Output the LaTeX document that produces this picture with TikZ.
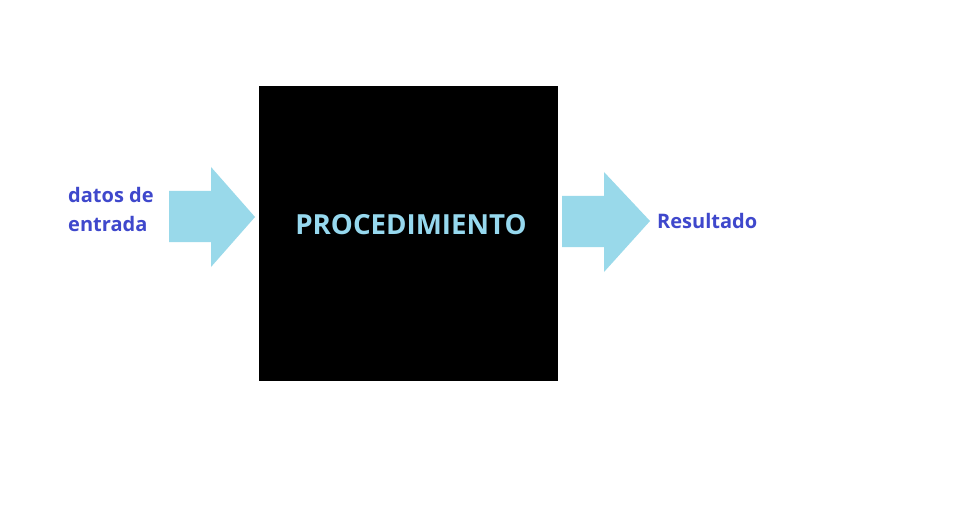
\documentclass[tikz,border=0pt]{standalone}
\usepackage{fontspec}
\setmainfont{Open Sans}
\definecolor{arrowblue}{HTML}{99D9EA}
\definecolor{textblue}{HTML}{3F48CC}
\definecolor{procblue}{HTML}{96D8EE}
\begin{document}
\begin{tikzpicture}[x=1pt,y=-1pt,
  fatarrow/.style={fill=arrowblue,draw=none},
  label/.style={text=textblue,font=\fontsize{20}{29}\selectfont\bfseries,inner sep=0pt,align=left}]
\useasboundingbox[fill=white] (0,0) rectangle (977,513);
\node[fill=black,minimum width=299pt,minimum height=295pt,inner sep=0pt,anchor=north west] (box) at (259,86) {};
\node[text=procblue,font=\fontsize{27.7}{32}\selectfont\bfseries,anchor=base] (proc) at (411,235) {PROCEDIMIENTO};
\fill[fatarrow] (169,191) -- (211,191) -- (211,167) -- (255,217) -- (211,267) -- (211,242) -- (169,242) -- cycle;
\fill[fatarrow] (562,196) -- (604,196) -- (604,172) -- (650,221) -- (604,272) -- (604,247) -- (562,247) -- cycle;
\node[label,anchor=base west] (in) at (68,232) {datos de\\entrada};
\node[label,anchor=base west] (out) at (657,229) {Resultado};
\end{tikzpicture}
\end{document}
